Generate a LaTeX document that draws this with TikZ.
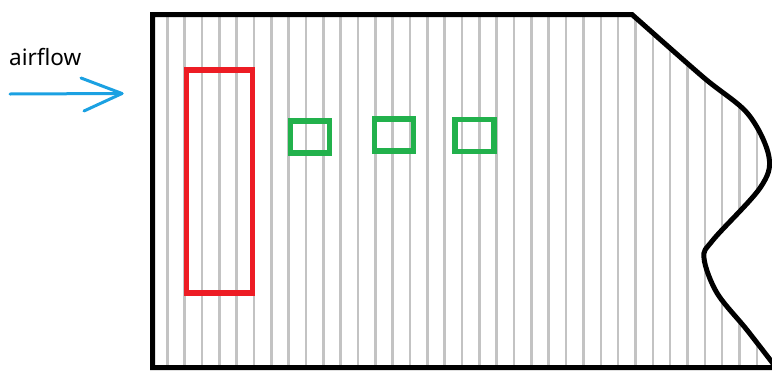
\documentclass[tikz,border=0pt]{standalone}
\usepackage{fontspec}
\setmainfont{Noto Sans}
\definecolor{paintred}{HTML}{ED1C24}
\definecolor{paintgreen}{HTML}{22B14C}
\definecolor{paintblue}{HTML}{1BA1E2}
\definecolor{hatch}{HTML}{C3C3C3}
\begin{document}
\begin{tikzpicture}[x=1pt,y=-1pt,
  outline/.style={draw=black,line width=5pt,line join=miter},
  hatchline/.style={draw=hatch,line width=2.6pt},
  redbox/.style={draw=paintred,line width=5.5pt,inner sep=0pt,minimum width=66pt,minimum height=223pt},
  greenbox/.style={draw=paintgreen,line width=5.5pt,inner sep=0pt,minimum width=39pt,minimum height=32pt},
  flow/.style={draw=paintblue,line width=3pt,line cap=round,line join=round}]
\useasboundingbox (0,0) rectangle (772,370);
\def\regionpath{(152.5,14.5) -- (632,14.5) -- plot[smooth,tension=0.55] coordinates {(632,14.5) (703,77) (748,114) (769,157) (760,188) (713,240) (704,258) (717,293) (747,330) (778,370)} -- (778,367.5) -- (152.5,367.5) -- cycle}
\begin{scope}
  \clip \regionpath;
  \foreach \k in {0,...,35}{
    \draw[hatchline] ({167.3+17.34*\k},10) -- ({167.3+17.34*\k},372);
  }
\end{scope}
\draw[outline] (778,367.5) -- (152.5,367.5) -- (152.5,14.5) -- (632,14.5) -- plot[smooth,tension=0.55] coordinates {(632,14.5) (703,77) (748,114) (769,157) (760,188) (713,240) (704,258) (717,293) (747,330) (778,370)};
\node[redbox] (heater) at (219.3,181.7) {};
\node[greenbox] (s1) at (309.8,137) {};
\node[greenbox] (s2) at (393.8,135) {};
\node[greenbox] (s3) at (474.7,135.5) {};
\node[anchor=base west,inner sep=0pt,font=\fontsize{22.5}{24}\selectfont] (label) at (9,65.5) {airflow};
\coordinate (tail) at (10,94);
\coordinate (tip) at (122,93.5);
\coordinate (barbA) at (81,78);
\coordinate (barbB) at (84,111);
\draw[flow] (tail) -- (tip);
\draw[flow] (barbA) -- (tip) -- (barbB);
\end{tikzpicture}
\end{document}
